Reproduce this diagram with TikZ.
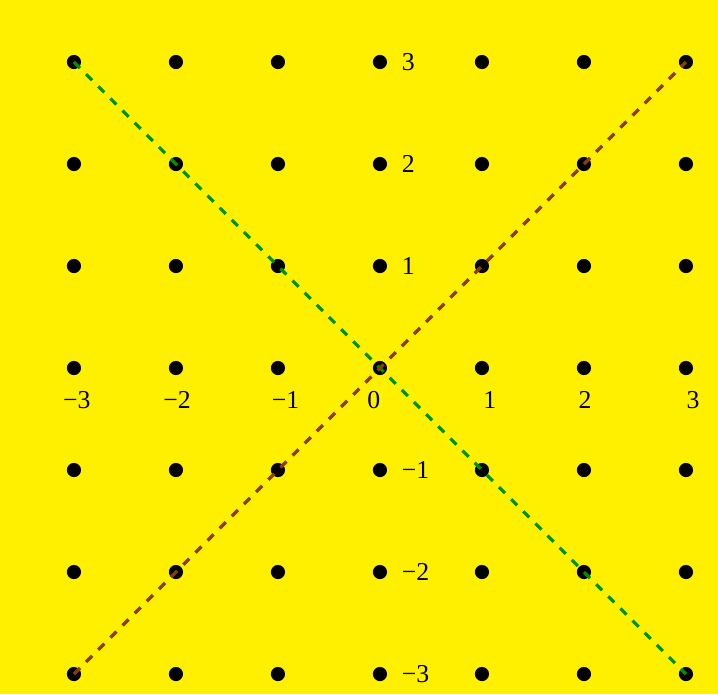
\documentclass[tikz,border=0pt]{standalone}
\usepackage{fontspec}
\setmainfont{Liberation Serif}
\definecolor{bgyellow}{RGB}{255,240,0}
\definecolor{lgreen}{RGB}{0,145,0}
\definecolor{lbrown}{RGB}{140,60,0}
\begin{document}
\begin{tikzpicture}[x=1.67cm,y=1.67cm,
  gdot/.style={circle,fill=black,inner sep=0pt,minimum size=6.6pt},
  diagline/.style={line width=1.5pt,dash pattern=on 4pt off 4pt},
  lab/.style={inner sep=0pt,font=\fontsize{12}{14}\selectfont}]
\fill[bgyellow] (-3.725,-3.196) rectangle (3.314,3.608);
\useasboundingbox (-3.725,-3.196) rectangle (3.314,3.608);
\foreach \x in {-3,...,3}{
  \foreach \y in {-3,...,3}{
    \node[gdot] (p\x y\y) at (\x,\y) {};
  }
}
\foreach \x/\xp/\t in {-3/-2.971/−3,-2/-1.990/−2,-1/-0.926/−1,0/-0.059/0,1/1.078/1,2/2.010/2,3/3.069/3}{
  \node[lab,anchor=base] (xl\x) at (\xp,-0.40) {\t};
}
\foreach \y/\t in {-3/−3,-2/−2,-1/−1,1/1,2/2,3/3}{
  \node[lab,anchor=base west] (yl\y) at (0.21,\y-0.082) {\t};
}
\draw[diagline,lgreen] (p-3y3.center) -- (p3y-3.center);
\draw[diagline,lbrown] (p-3y-3.center) -- (p3y3.center);
\end{tikzpicture}
\end{document}
